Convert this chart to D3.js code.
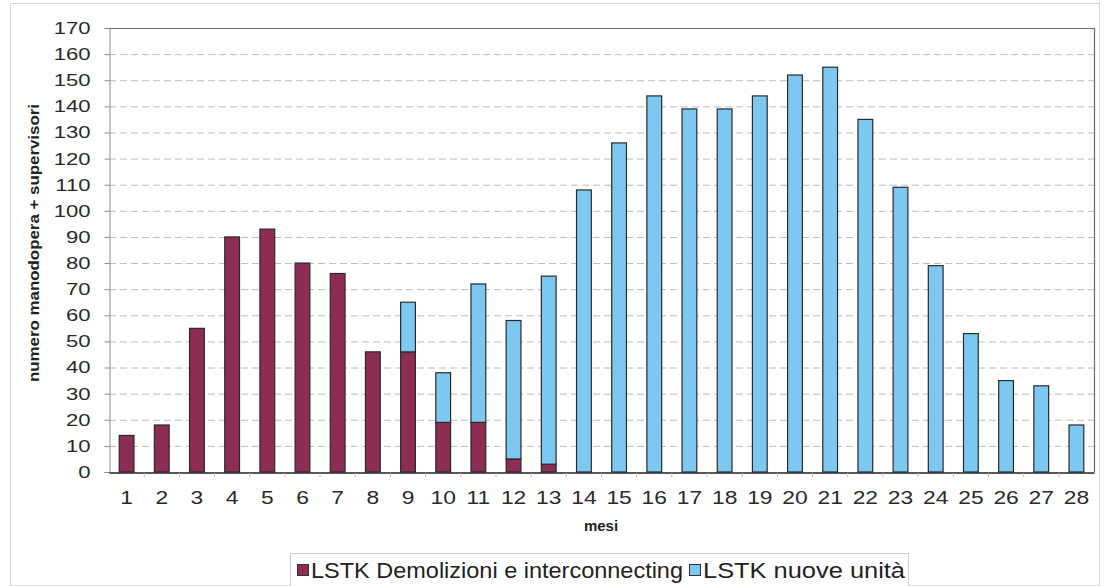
<!DOCTYPE html>
<html>
<head>
<meta charset="utf-8">
<script src="https://cdn.jsdelivr.net/npm/d3@7"></script>
<style>
	body { margin: 0; background: #fff; }
	svg { display: block; font-family: "Liberation Sans", Arial, sans-serif; }
</style>
</head>
<body>
<svg id="chart" width="1106" height="586"></svg>
<script>
'use strict';

// mesi 1..28
const months = d3.range(1, 29).map(String);

// LSTK Demolizioni e interconnecting
const demolizioni = [14, 18, 55, 90, 93, 80, 76, 46, 46, 19, 19, 5, 3, 0,
	0, 0, 0, 0, 0, 0, 0, 0, 0, 0, 0, 0, 0, 0];

// LSTK nuove unita
const nuoveUnita = [0, 0, 0, 0, 0, 0, 0, 0, 19, 19, 53, 53, 72, 108,
	126, 144, 139, 139, 144, 152, 155, 135, 109, 79, 53, 35, 33, 18];

const yTicks = d3.range(0, 171, 10);

const seriesNames = ["LSTK Demolizioni e interconnecting", "LSTK nuove unità"];
const seriesColors = ["#8d2d54", "#7cc8f1"];

const svg = d3.select("#chart");

// the scanned chart has wide lettering: stretch text a bit
function stretch(sel, factor){
	sel.each(function(){
		let w = this.getComputedTextLength();
		d3.select(this)
			.attr("textLength", w * factor)
			.attr("lengthAdjust", "spacingAndGlyphs");
	});
}

// outer frame of the chart
svg.append("rect")
	.attr("x", 10.5).attr("y", 3.5)
	.attr("width", 1089).attr("height", 582)
	.attr("fill", "none")
	.attr("stroke", "#d6d6d6");

const plot = { left: 109, top: 28, right: 1094, bottom: 472 };

const x = d3.scaleBand()
	.domain(months)
	.range([plot.left, plot.right])
	.paddingInner(0.58)
	.paddingOuter(0.29);

const y = d3.scaleLinear()
	.domain([0, 170])
	.range([plot.bottom, plot.top]);

// grid
svg.append("g")
	.selectAll("line")
	.data(yTicks.filter(function(d){ return d > 0 && d < 170; }))
	.enter()
	.append("line")
	.attr("x1", plot.left).attr("x2", plot.right)
	.attr("y1", function(d){ return y(d) + 0.5; })
	.attr("y2", function(d){ return y(d) + 0.5; })
	.attr("stroke", "#bdbdbd")
	.attr("stroke-dasharray", "7,4");

// plot border top + right
svg.append("path")
	.attr("d", "M" + plot.left + "," + (plot.top + 0.5) + "H" + (plot.right + 0.5) + "V" + plot.bottom)
	.attr("fill", "none")
	.attr("stroke", "#6a6a6a")
	.attr("stroke-width", 1.2);

// stacked data
const rows = months.map(function(m, i){
	return { mese: m, dem: demolizioni[i], nuove: nuoveUnita[i] };
});
const stack = d3.stack().keys(["dem", "nuove"]);
const layers = stack(rows);

svg.append("g")
	.selectAll("g")
	.data(layers)
	.enter()
	.append("g")
	.attr("fill", function(d, i){ return seriesColors[i]; })
	.selectAll("rect")
	.data(function(d){ return d.filter(function(s){ return s[1] - s[0] > 0; }); })
	.enter()
	.append("rect")
	.attr("x", function(d){ return x(d.data.mese); })
	.attr("y", function(d){ return y(d[1]); })
	.attr("width", x.bandwidth())
	.attr("height", function(d){ return y(d[0]) - y(d[1]); })
	.attr("stroke", "#2a2a2a")
	.attr("stroke-width", 1.2);

// y axis
const yAxis = svg.append("g")
	.attr("transform", "translate(" + (plot.left + 0.5) + ",0)")
	.call(d3.axisLeft(y).tickValues(yTicks).tickSize(5).tickPadding(14));
yAxis.select(".domain").attr("stroke", "#8a8a8a");
yAxis.selectAll(".tick line").attr("stroke", "#8a8a8a");
yAxis.selectAll("text")
	.attr("font-size", "17px")
	.attr("fill", "#2a2a2a")
	.attr("font-family", "Liberation Sans, Arial, sans-serif")
	.call(stretch, 1.3);

// x axis
const xAxis = svg.append("g")
	.attr("transform", "translate(0," + (plot.bottom + 0.5) + ")")
	.call(d3.axisBottom(x).tickSize(0).tickPadding(18));
xAxis.select(".domain").attr("stroke", "#222").attr("stroke-width", 1.3);
xAxis.selectAll("text")
	.attr("font-size", "19px")
	.attr("fill", "#2a2a2a")
	.attr("font-family", "Liberation Sans, Arial, sans-serif")
	.call(stretch, 1.2);

// small ticks between categories
const step = x.step();
svg.append("g")
	.selectAll("line")
	.data(months.slice(1))
	.enter()
	.append("line")
	.attr("x1", function(d){ return x(d) - step * x.paddingInner() / 2; })
	.attr("x2", function(d){ return x(d) - step * x.paddingInner() / 2; })
	.attr("y1", plot.bottom + 1)
	.attr("y2", plot.bottom + 5)
	.attr("stroke", "#bbb");

// axis titles
svg.append("text")
	.attr("x", 601).attr("y", 531)
	.attr("text-anchor", "middle")
	.attr("font-size", "15px")
	.attr("font-weight", "bold")
	.attr("fill", "#222")
	.text("mesi");

svg.append("text")
	.attr("transform", "translate(39,243) rotate(-90)")
	.attr("text-anchor", "middle")
	.attr("font-size", "14px")
	.attr("font-weight", "bold")
	.attr("fill", "#222")
	.text("numero manodopera + supervisori")
	.attr("textLength", 278)
	.attr("lengthAdjust", "spacingAndGlyphs");

// legend
const legend = svg.append("g");
legend.append("rect")
	.attr("x", 290.5).attr("y", 553.5)
	.attr("width", 618).attr("height", 36)
	.attr("fill", "#fff")
	.attr("stroke", "#cfcfcf");

const legendX = [297, 689];
const legendW = [372, 202];
seriesNames.forEach(function(name, i){
	legend.append("rect")
		.attr("x", legendX[i] + 0.5).attr("y", 564.5)
		.attr("width", 11).attr("height", 11)
		.attr("fill", seriesColors[i])
		.attr("stroke", "#333");
	legend.append("text")
		.attr("x", legendX[i] + 14).attr("y", 578)
		.attr("font-size", "22px")
		.attr("fill", "#222")
		.text(name)
		.attr("textLength", legendW[i])
		.attr("lengthAdjust", "spacingAndGlyphs");
});
</script>
</body>
</html>
